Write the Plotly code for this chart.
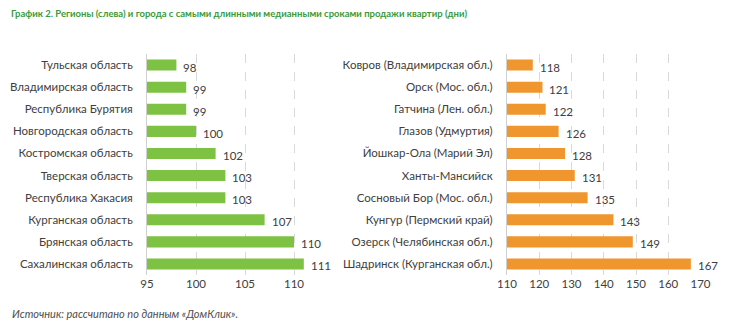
import plotly.graph_objects as go

regions = ["Тульская область", "Владимирская область", "Республика Бурятия",
           "Новгородская область", "Костромская область", "Тверская область",
           "Республика Хакасия", "Курганская область", "Брянская область",
           "Сахалинская область"]
region_days = [98, 99, 99, 100, 102, 103, 103, 107, 110, 111]

cities = ["Ковров (Владимирская обл.)", "Орск (Мос. обл.)", "Гатчина (Лен. обл.)",
          "Глазов (Удмуртия)", "Йошкар-Ола (Марий Эл)", "Ханты-Мансийск",
          "Сосновый Бор (Мос. обл.)", "Кунгур (Пермский край)",
          "Озерск (Челябинская обл.)", "Шадринск (Курганская обл.)"]
city_days = [118, 121, 122, 126, 128, 131, 135, 143, 149, 167]

left_ticks = [95, 100, 105, 110]
right_ticks = [110, 120, 130, 140, 150, 160, 170]

W, H = 730, 329
FONT = "Lato"
FS = 11.5
TXT = "#404040"

fig = go.Figure()
fig.add_trace(go.Bar(
    x=region_days, y=regions, orientation="h",
    marker=dict(color="#7DC242", line=dict(width=0)), width=0.5,
    xaxis="x", yaxis="y"))
fig.add_trace(go.Bar(
    x=city_days, y=cities, orientation="h",
    marker=dict(color="#F0962E", line=dict(width=0)), width=0.5,
    xaxis="x2", yaxis="y2"))

annotations = []
for cat, v in zip(regions, region_days):
    annotations.append(dict(x=v, y=cat, xref="x", yref="y", text=str(v), showarrow=False,
                            xanchor="left", yanchor="middle", xshift=5, yshift=-2,
                            font=dict(family=FONT, size=FS, color=TXT)))
for cat, v in zip(cities, city_days):
    annotations.append(dict(x=v, y=cat, xref="x2", yref="y2", text=str(v), showarrow=False,
                            xanchor="left", yanchor="middle", xshift=5, yshift=-2,
                            font=dict(family=FONT, size=FS, color=TXT)))

annotations += [
    dict(text="<b>График 2. Регионы (слева) и города с самыми длинными медианными сроками продажи квартир (дни)</b>",
         x=9 / W, y=1 - 14 / H, xref="paper", yref="paper", xanchor="left", yanchor="middle",
         showarrow=False, font=dict(family=FONT, size=9.5, color="#3A9A3A")),
    dict(text="<i>Источник: рассчитано по данным «ДомКлик».</i>",
         x=10 / W, y=1 - 313 / H, xref="paper", yref="paper", xanchor="left", yanchor="middle",
         showarrow=False, font=dict(family=FONT, size=11, color="#505050")),
]

ydom = [1 - 275 / H, 1 - 54 / H]
common_x = dict(showgrid=True, gridcolor="#D9D9D9", griddash="dash", gridwidth=1,
                zeroline=False, showline=False, ticks="", automargin=False,
                tickfont=dict(family=FONT, size=FS, color=TXT))
common_y = dict(domain=ydom, autorange="reversed", showline=True, linecolor="#D0D0D0",
                ticks="", showgrid=False, tickfont=dict(family=FONT, size=FS, color=TXT),
                ticklabelstandoff=11, automargin=False)
fig.update_layout(
    width=W, height=H, margin=dict(l=0, r=0, t=0, b=0),
    paper_bgcolor="white", plot_bgcolor="white", showlegend=False,
    xaxis=dict(domain=[147 / W, 313.6 / W], range=[95, 112], tickvals=left_ticks,
               anchor="y", **common_x),
    yaxis=dict(anchor="x", **common_y),
    xaxis2=dict(domain=[507 / W, 701.5 / W], range=[110, 170.3], tickvals=right_ticks,
                anchor="y2", **common_x),
    yaxis2=dict(anchor="x2", **common_y),
    annotations=annotations,
)

fig.write_html("out.html")
